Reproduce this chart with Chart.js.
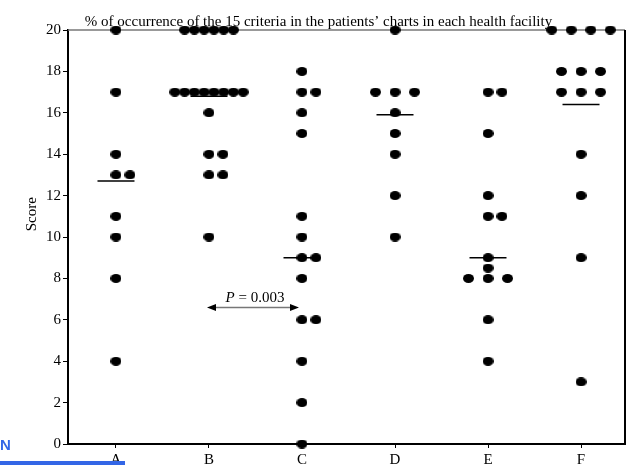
<!DOCTYPE html>
<html>
<head>
<meta charset="utf-8">
<script src="https://cdn.jsdelivr.net/npm/chart.js@4/dist/chart.umd.min.js"></script>
<style>
  html, body { margin: 0; padding: 0; background: #fff; }
  #wrap { position: relative; width: 628px; height: 465px; overflow: hidden; }
  #chart { position: absolute; left: 0; top: 0; }
  #tag { position: absolute; left: 0; top: 436px; font: bold 15px "Liberation Sans", Arial, sans-serif; color: #3366e6; }
  #bar { position: absolute; left: 0; top: 461px; width: 125px; height: 4px; background: #3366e6; }
</style>
</head>
<body>
<div id="wrap">
  <canvas id="chart" width="628" height="465"></canvas>
  <div id="tag">N</div>
  <div id="bar"></div>
</div>
<script>
// Health facilities and the scores recorded in each one
const categories = ['A', 'B', 'C', 'D', 'E', 'F'];
const scoresA = [20, 17, 14, 13, 13, 11, 10, 8, 4];
const scoresB = [20, 20, 20, 20, 20, 20, 17, 17, 17, 17, 17, 17, 17, 17, 16, 14, 14, 13, 13, 10];
const scoresC = [18, 17, 17, 16, 15, 11, 10, 9, 9, 8, 6, 6, 4, 2, 0];
const scoresD = [20, 17, 17, 17, 16, 15, 14, 12, 10];
const scoresE = [17, 17, 15, 12, 11, 11, 9, 8.5, 8, 8, 8, 6, 4];
const scoresF = [20, 20, 20, 20, 18, 18, 18, 17, 17, 17, 14, 12, 9, 3];
const centralLines = [12.7, 16.8, 9, 15.9, 9, 16.4];
const scoreTicks = [0, 2, 4, 6, 8, 10, 12, 14, 16, 18, 20];
const comparison = { from: 'B', to: 'C', level: 6.6, label: '0.003' };
const chartTitle = '% of occurrence of the 15 criteria in the patients\u2019 charts in each health facility';

const allScores = [scoresA, scoresB, scoresC, scoresD, scoresE, scoresF];
const SERIF = '"Liberation Serif", "Times New Roman", serif';

// Spread tied scores sideways so every patient stays visible (in category units)
function spread(i, n) {
  if (n === 1) return 0;
  if (n === 2) return i * 0.15;
  const step = n > 4 ? 0.105 : 0.21;
  return (i - (n - 1) / 2) * step;
}

const dots = [];
allScores.forEach((list, c) => {
  const counts = {};
  list.forEach(v => { counts[v] = (counts[v] || 0) + 1; });
  const seen = {};
  list.forEach(v => {
    const i = seen[v] || 0;
    seen[v] = i + 1;
    dots.push({ x: c + spread(i, counts[v]), y: v });
  });
});
const lines = centralLines.map((v, c) => ({ x: c, y: v }));

// Slightly flattened black dot
const dot = document.createElement('canvas');
dot.width = 11; dot.height = 9;
(function () {
  const g = dot.getContext('2d');
  g.fillStyle = '#000';
  g.beginPath();
  g.ellipse(5.5, 4.5, 5.5, 4.5, 0, 0, Math.PI * 2);
  g.fill();
})();

const framePlugin = {
  id: 'frame',
  beforeDatasetsDraw(chart) {
    const a = chart.chartArea, ctx = chart.ctx;
    ctx.save();
    ctx.strokeStyle = '#777';
    ctx.lineWidth = 1.5;
    ctx.beginPath();
    ctx.moveTo(a.left, a.top);
    ctx.lineTo(a.right, a.top);
    ctx.stroke();
    ctx.strokeStyle = '#000';
    ctx.lineWidth = 2;
    ctx.beginPath();
    ctx.moveTo(a.right, a.top);
    ctx.lineTo(a.right, a.bottom);
    ctx.stroke();
    // rotated axis caption
    ctx.fillStyle = '#000';
    ctx.font = '15px ' + SERIF;
    ctx.textAlign = 'center';
    ctx.textBaseline = 'middle';
    ctx.translate(a.left - 36, a.top + (a.bottom - a.top) * 0.445);
    ctx.rotate(-Math.PI / 2);
    ctx.fillText('Score', 0, 0);
    ctx.restore();
  }
};

const arrowPlugin = {
  id: 'pArrow',
  afterDatasetsDraw(chart) {
    const xs = chart.scales.x, ys = chart.scales.y, ctx = chart.ctx;
    const x1 = xs.getPixelForValue(categories.indexOf(comparison.from)) - 2;
    const x2 = xs.getPixelForValue(categories.indexOf(comparison.to)) - 3;
    const y = ys.getPixelForValue(comparison.level);
    ctx.save();
    ctx.strokeStyle = '#777';
    ctx.lineWidth = 1.5;
    ctx.beginPath();
    ctx.moveTo(x1 + 6, y);
    ctx.lineTo(x2 - 6, y);
    ctx.stroke();
    ctx.fillStyle = '#000';
    ctx.beginPath();
    ctx.moveTo(x1, y); ctx.lineTo(x1 + 9, y - 3.5); ctx.lineTo(x1 + 9, y + 3.5); ctx.closePath();
    ctx.moveTo(x2, y); ctx.lineTo(x2 - 9, y - 3.5); ctx.lineTo(x2 - 9, y + 3.5); ctx.closePath();
    ctx.fill();
    const pPart = 'P', rest = ' = ' + comparison.label;
    ctx.font = 'italic 15px ' + SERIF;
    const wP = ctx.measureText(pPart).width;
    ctx.font = '15px ' + SERIF;
    const wR = ctx.measureText(rest).width;
    let tx = (x1 + x2) / 2 - (wP + wR) / 2 + 2;
    ctx.textBaseline = 'alphabetic';
    ctx.textAlign = 'left';
    ctx.font = 'italic 15px ' + SERIF;
    ctx.fillText(pPart, tx, y - 5);
    ctx.font = '15px ' + SERIF;
    ctx.fillText(rest, tx + wP, y - 5);
    ctx.restore();
  }
};

new Chart(document.getElementById('chart'), {
  type: 'scatter',
  data: {
    datasets: [
      {
        data: dots,
        pointStyle: dot,
        pointRadius: 5,
        clip: false
      },
      {
        data: lines,
        pointStyle: 'line',
        pointRadius: 18.5,
        pointBorderWidth: 1.5,
        borderColor: '#000',
        clip: false
      }
    ]
  },
  options: {
    responsive: false,
    devicePixelRatio: 1,
    animation: false,
    events: [],
    layout: { autoPadding: false, padding: { left: 12, right: 3, top: 0, bottom: 0 } },
    plugins: {
      legend: { display: false },
      tooltip: { enabled: false },
      title: {
        display: true,
        text: chartTitle,
        color: '#000',
        font: { family: SERIF, size: 15, weight: 'normal', lineHeight: 1 },
        padding: { top: 15, bottom: 0 }
      }
    },
    scales: {
      x: {
        type: 'linear',
        min: -0.516,
        max: 5.473,
        afterBuildTicks(s) { s.ticks = categories.map((c, i) => ({ value: i })); },
        afterFit(s) { s.height = 21; },
        ticks: {
          callback: v => categories[v],
          color: '#000',
          font: { family: SERIF, size: 15 },
          padding: 3,
          maxRotation: 0
        },
        grid: { drawOnChartArea: false, drawTicks: true, tickLength: 4, color: '#000', lineWidth: 1 },
        border: { display: true, color: '#000', width: 2 }
      },
      y: {
        min: 0,
        max: 20,
        afterBuildTicks(s) { s.ticks = scoreTicks.map(v => ({ value: v })); },
        afterFit(s) { s.width = 56; },
        ticks: {
          color: '#000',
          font: { family: SERIF, size: 15 },
          padding: 2
        },
        grid: { drawOnChartArea: false, drawTicks: true, tickLength: 5, color: '#000', lineWidth: 1 },
        border: { display: true, color: '#000', width: 2 }
      }
    }
  },
  plugins: [framePlugin, arrowPlugin]
});
</script>
</body>
</html>
